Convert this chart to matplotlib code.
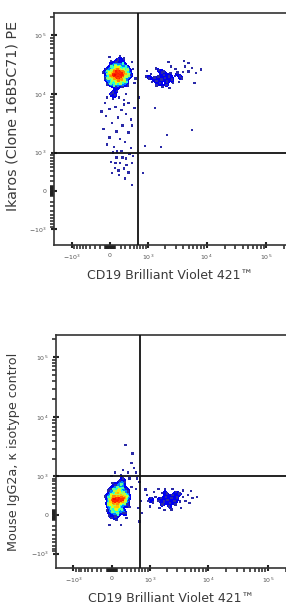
import numpy as np
import matplotlib
matplotlib.use("Agg")
import matplotlib.pyplot as plt

# events exported as display channels (arcsinh display, cofactor 480)
COFACTOR = 480


def to_channel(v):
    return (np.arcsinh(np.asarray(v, dtype=float) / COFACTOR) + 2.2) * 110


tick_values = [-1000, 0, 1000, 10000, 100000]
tick_labels = [r"$-10^3$", "0", r"$10^3$", r"$10^4$", r"$10^5$"]

# --- top panel: Ikaros vs CD19 (channel values) ---
ikaros_bneg = [
    (276, 735), (270, 742), (283, 728), (268, 728), (285, 745), (276, 722), (276, 750), (262, 736), (290, 736),
    (296, 735), (290, 752), (276, 758), (260, 750), (256, 735), (262, 718), (276, 712), (291, 718),
    (255, 740), (297, 732), (272, 760), (280, 712), (258, 720), (294, 752), (260, 755), (292, 716), (248, 730),
    (302, 745), (278, 768), (270, 704),
    (308, 740), (302, 760), (285, 772), (265, 770), (248, 755), (244, 733), (250, 712), (266, 698), (286, 698),
    (303, 712),
    (240, 745), (312, 728), (265, 778), (288, 696), (236, 718), (316, 755), (248, 770), (305, 705), (232, 738),
    (320, 740), (258, 690), (296, 782), (245, 700), (310, 770),
    (321, 730), (316, 760), (298, 785), (270, 790), (245, 778), (232, 752), (231, 722), (244, 697), (268, 683),
    (295, 685), (314, 705),
    (225, 760), (330, 735), (275, 800), (272, 668), (220, 720), (340, 760), (245, 795), (318, 690), (228, 695),
    (300, 805), (255, 660), (350, 720), (212, 745), (335, 790), (285, 815), (240, 812), (345, 700), (262, 650),
]
ikaros_bpos = [
    (476, 722), (460, 715), (492, 728), (470, 735), (485, 708), (448, 728), (505, 715), (455, 700), (498, 742),
    (440, 710), (518, 730), (472, 750), (482, 692), (430, 725), (528, 745), (462, 745), (510, 700), (420, 705),
    (540, 728), (450, 755), (520, 760), (408, 720), (552, 748), (440, 690), (535, 705), (495, 680), (560, 770),
    (415, 740), (575, 750), (465, 685), (548, 720), (500, 770), (590, 765), (608, 742), (628, 758), (438, 762),
    (395, 728), (400, 752), (575, 785), (490, 790), (555, 795),
]
ikaros_mid = [
    (230, 640), (255, 632), (300, 628), (320, 615), (265, 600), (240, 590), (290, 585), (310, 570), (225, 560),
    (275, 555), (330, 545), (250, 530), (295, 520), (215, 505), (270, 495), (320, 490), (240, 470), (285, 462),
    (305, 450), (230, 440), (260, 430), (330, 425), (300, 610), (345, 595), (220, 615), (280, 640), (310, 655),
    (245, 655), (335, 520), (205, 580),
]
ikaros_low = [
    (255, 405), (290, 412), (325, 400), (270, 385), (310, 380), (245, 365), (285, 360), (335, 362), (262, 340),
    (300, 338), (320, 320), (250, 318), (280, 310), (305, 295), (272, 410), (340, 390), (295, 385), (335, 267),
    (265, 362), (312, 352), (278, 330),
]
ikaros_other = [(590, 501), (484, 480), (391, 433), (459, 429), (433, 595), (382, 318), (365, 640), (600, 700)]

# --- bottom panel: isotype control vs CD19 (channel values) ---
iso_bneg = [
    (267, 305), (262, 312), (272, 298), (258, 300), (276, 310), (266, 290), (268, 322), (254, 308), (280, 302),
    (287, 308), (282, 325), (268, 333), (253, 322), (247, 304), (252, 287), (266, 278), (282, 288),
    (250, 320), (284, 318), (262, 335), (272, 278), (248, 292), (288, 296), (258, 275), (278, 338), (244, 305),
    (292, 312), (270, 345), (262, 265),
    (299, 315), (292, 338), (274, 350), (254, 343), (240, 323), (236, 298), (244, 275), (262, 262), (284, 268),
    (297, 290),
    (240, 330), (296, 330), (266, 360), (266, 250), (236, 285), (300, 300), (250, 350), (285, 262), (232, 310),
    (305, 320), (248, 255), (288, 355), (238, 268), (282, 370),
    (312, 322), (303, 352), (284, 372), (258, 368), (236, 350), (225, 318), (228, 285), (242, 256), (268, 243),
    (292, 250), (308, 285),
    (228, 345), (312, 340), (275, 385), (258, 235), (225, 290), (315, 305), (245, 375), (300, 250), (222, 260),
    (298, 380), (240, 228), (318, 275), (212, 320), (290, 395), (262, 220), (325, 360), (230, 240), (305, 230),
]
iso_bpos = [
    (479, 305), (463, 298), (495, 312), (472, 318), (488, 292), (450, 312), (508, 300), (458, 285), (500, 325),
    (440, 300), (520, 315), (476, 332), (484, 278), (428, 318), (532, 298), (455, 335), (512, 285), (418, 295),
    (545, 318), (468, 350), (515, 338), (408, 312), (555, 300), (445, 272), (530, 332), (495, 265), (565, 325),
    (420, 338), (572, 292), (465, 262), (545, 345), (500, 350), (585, 312), (398, 300), (405, 278), (392, 325),
    (440, 352), (535, 270), (578, 342), (605, 318), (385, 348),
]
iso_other = [
    (300, 536), (325, 460), (335, 440), (310, 420), (290, 430), (345, 420), (318, 395), (280, 410), (350, 395),
    (255, 420), (360, 380), (330, 500), (345, 350), (365, 300), (370, 250), (360, 215), (240, 405), (280, 200),
    (232, 200), (355, 270),
]

gate_x = 620      # CD19 quadrant gate
gate_y = 1000     # Ikaros / isotype quadrant gate

panels = [
    dict(events=[ikaros_bneg, ikaros_bpos, ikaros_mid, ikaros_low, ikaros_other],
         ylabel="Ikaros (Clone 16B5C71) PE", ylabel_size=10.3, ylabel_pos=(-0.147, 0.555),
         rect=[54 / 286, 1 - 245 / 612, 232 / 286, 232 / 612], xlim=(4, 989), ylim=(13, 998)),
    dict(events=[iso_bneg, iso_bpos, iso_other],
         ylabel="Mouse IgG2a, \u03ba isotype control", ylabel_size=9.2, ylabel_pos=(-0.158, 0.5),
         rect=[56 / 286, 1 - 568 / 612, 230 / 286, 233 / 612], xlim=(5, 960), ylim=(19, 998)),
]

minor_vals = []
for k in (3, 4):
    minor_vals += [m * 10 ** k for m in range(2, 10)]
minor_vals += [m * 100 for m in range(2, 10)] + [-m * 100 for m in range(2, 10)]
minor_vals += [m * 10 for m in range(-9, 10) if m != 0] + [200000]

text_col = "#3a3a3a"
fig = plt.figure(figsize=(2.86, 6.12), dpi=100)
jet = plt.get_cmap("jet")

for p in panels:
    ax = fig.add_axes(p["rect"])
    pts = np.array([e for pop in p["events"] for e in pop], dtype=float)

    # smoothed event density for the pseudocolour
    gx, gy = np.meshgrid(np.linspace(*p["xlim"], 400), np.linspace(*p["ylim"], 400))
    bw = 10.0
    z = np.zeros_like(gx)
    for x, y in pts:
        z += np.exp(-((gx - x) ** 2 + (gy - y) ** 2) / (2 * bw ** 2))
    zmax = z.max()
    z /= zmax
    levels = [0.25, 0.4, 0.55, 0.68, 0.8, 0.9, 1.01]
    cols = [jet(v) for v in [0.1, 0.25, 0.38, 0.55, 0.7, 0.88]]
    ax.contourf(gx, gy, z, levels=levels, colors=cols, zorder=1)

    d = pts[:, None, :] - pts[None, :, :]
    dens = np.exp(-(d ** 2).sum(-1) / (2 * bw ** 2)).sum(1) / zmax
    order = np.argsort(dens)
    pc = [jet(0.05 + 0.85 * v) if v > 0.4 else ("#2a2aa8" if v > 0.13 else "#8a8ab8") for v in dens[order]]
    ax.scatter(pts[order, 0], pts[order, 1], s=3, marker="s", c=pc, linewidths=0, zorder=2)

    ax.axvline(to_channel(gate_x), color="#111111", lw=1.3, zorder=3)
    ax.axhline(to_channel(gate_y), color="#111111", lw=1.3, zorder=3)

    ax.set_xlim(p["xlim"])
    ax.set_ylim(p["ylim"])
    ax.set_xticks(to_channel(tick_values))
    ax.set_xticklabels(tick_labels)
    ax.set_yticks(to_channel(tick_values))
    ax.set_yticklabels(tick_labels)
    ax.set_xticks(to_channel(minor_vals), minor=True)
    ax.set_yticks(to_channel(minor_vals), minor=True)
    ax.tick_params(which="major", direction="inout", length=5, width=1.5, color="#222222", labelsize=4.5,
                   labelcolor="#555555", pad=3)
    ax.tick_params(which="minor", length=3, width=1.1, color="#222222")
    for s in ("left", "bottom", "top"):
        ax.spines[s].set_linewidth(1.2)
        ax.spines[s].set_color("#333333")
    ax.spines["right"].set_visible(False)

    ax.set_xlabel("CD19 Brilliant Violet 421\u2122", fontsize=9, color=text_col, labelpad=5)
    ax.set_ylabel(p["ylabel"], fontsize=p["ylabel_size"], color=text_col)
    ax.yaxis.set_label_coords(*p["ylabel_pos"])

fig.savefig("out.png", dpi=100, facecolor="white")
